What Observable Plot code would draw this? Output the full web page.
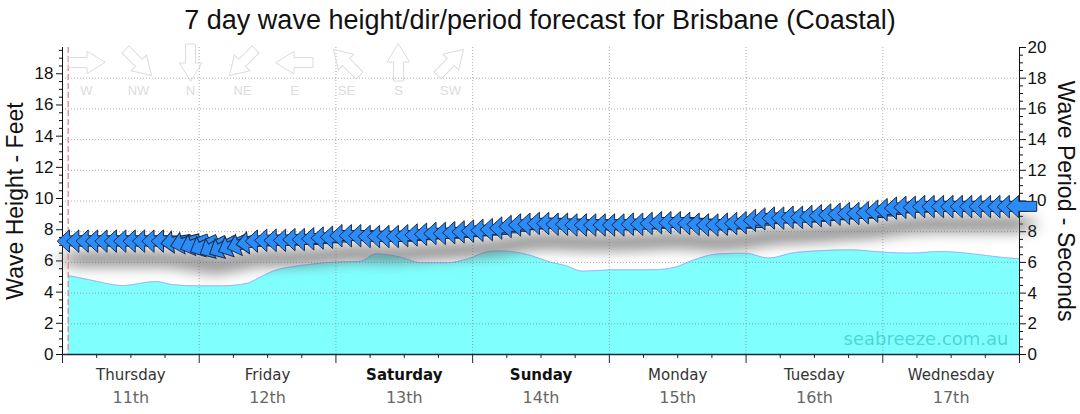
<!DOCTYPE html>
<html><head><meta charset="utf-8">
<script src="https://cdn.jsdelivr.net/npm/d3@7"></script>
<script src="https://cdn.jsdelivr.net/npm/@observablehq/plot@0.6"></script>
<style>
body{margin:0;background:#fff;}
#wrap{position:relative;width:1080px;height:414px;overflow:hidden;background:#fff;}
#title{position:absolute;left:0;top:5px;width:1080px;text-align:center;font-family:"Liberation Sans",Arial,sans-serif;font-size:27px;line-height:30px;color:#111;z-index:10;}
#wrap svg{position:absolute;left:0;top:0;}
</style></head><body>
<div id="wrap"><div id="title">7 day wave height/dir/period forecast for Brisbane (Coastal)</div></div>
<script>
// ---- data ----
const days = ["Thursday","Friday","Saturday","Sunday","Monday","Tuesday","Wednesday"];
const dates = ["11th","12th","13th","14th","15th","16th","17th"];
const weekend = ["Saturday","Sunday"];

// wave height (feet) at hours from Thursday 00:00
const heightHours = [1, 4.6, 10.6, 16.4, 19.4, 23.9, 28.1, 32.5, 33.9, 36.9, 41.8, 47.6, 52.3, 55.1, 59.4, 62.9, 67.6, 71.1, 75.1, 76.9, 81.6, 85.7, 88.3, 91.3, 96.5, 103.6, 107.6, 110.6, 115.1, 119.9, 123.9, 128.7, 138.3, 144.1, 148.8, 154.1, 159.9, 164.6, 168];
const heightFt = [5.06, 4.8, 4.42, 4.68, 4.47, 4.4, 4.4, 4.57, 4.8, 5.34, 5.7, 5.92, 5.98, 6.45, 6.24, 5.88, 5.88, 6.13, 6.62, 6.64, 6.41, 5.92, 5.7, 5.34, 5.43, 5.43, 5.6, 6.03, 6.45, 6.5, 6.18, 6.54, 6.71, 6.56, 6.5, 6.6, 6.45, 6.24, 6.13];

// wave period (s) and direction (deg, from) for each arrow
const arrowStartHour = 1.75;
const arrowStepHours = 1.65;
const periods = [
  7.4,7.4,7.4,7.4,7.4,7.4,7.4,7.4,7.4,7.4,7.4,
  7.35,7.3,7.2,7.1,7.0,7.0,7.1,7.2,7.3,
  7.4,
  7.45,7.45,7.45,7.5,7.5,7.55,7.6,7.65,
  7.75,7.75,7.75,7.7,7.7,7.7,
  7.7,7.75,7.8,7.85,7.9,7.9,
  7.95,8.0,8.05,8.1,8.15,
  8.25,8.35,8.45,8.5,8.55,
  8.55,8.5,8.5,8.45,8.45,8.45,8.45,8.45,8.45,8.5,
  8.5,8.55,8.6,8.6,8.6,8.55,
  8.5,8.45,8.45,8.5,8.55,8.6,
  8.75,8.85,8.9,8.9,8.95,8.95,
  9.0,9.05,9.1,9.15,9.2,9.2,9.25,
  9.35,9.45,9.55,9.6,9.6,9.65,
  9.65,9.65,9.65,9.65,9.65,9.65,9.65,9.65,9.65,9.65
];
const directions = [
  90,90,90,90,90,90,90,90,90,90,90,
  82,76,70,65,62,62,66,72,82,
  90,90,90,90,90,90,90,90,90,90,90,90,90,90,90,90,90,90,90,90,90,90,90,90,90,90,90,90,90,90,90,
  90,90,90,90,90,90,90,90,90,90,90,90,90,90,90,90,90,90,90,90,90,90,90,90,90,90,90,90,90,90,90,
  90,90,90,90,90,90,90,90,90,90,90,90,90,90,90,90,90,90,90,90
];
const nowHour = 1.0;

const leftTicks = [0,2,4,6,8,10,12,14,16,18];
const rightTicks = [0,2,4,6,8,10,12,14,16,18,20];
const gridPeriods = [2,4,6,8,10,12,14,16,18];
const dayBoundaries = [0,24,48,72,96,120,144,168];

const dirNames = ["W","NW","N","NE","E","SE","S","SW"];
const dirDegrees = [270,315,0,45,90,135,180,225];

// ---- scales helpers ----
const MAX_FT = 19.685;      // 6 m
const MAX_SEC = 20;
const K = MAX_FT / MAX_SEC; // seconds -> feet position

const arrows = periods.map((p, i) => ({h: arrowStartHour + i * arrowStepHours, p, dir: directions[i]}));
const heights = heightHours.map((h, i) => ({h, ft: heightFt[i]}));
const minorLeft = d3.range(0, MAX_FT, 0.5).filter(v => v % 2 !== 0);
const minorRight = d3.range(0, MAX_SEC + 0.01, 0.5).filter(v => v % 2 !== 0).map(v => v * K);
const minorX = d3.range(0, 169, 6).filter(v => v % 24 !== 0);

function arrowShape(headLen, headHalf, shaftHalf) {
  return {draw(ctx, l) {
    ctx.moveTo(0, -l);
    ctx.lineTo(headHalf, -l + headLen);
    ctx.lineTo(shaftHalf, -l + headLen);
    ctx.lineTo(shaftHalf, 0);
    ctx.lineTo(-shaftHalf, 0);
    ctx.lineTo(-shaftHalf, -l + headLen);
    ctx.lineTo(-headHalf, -l + headLen);
    ctx.closePath();
  }};
}

const FONT = "Liberation Sans, Arial, sans-serif";
const VFONT = "DejaVu Sans, Verdana, sans-serif";

const chart = Plot.plot({
  width: 1080, height: 414,
  marginLeft: 62, marginRight: 61, marginTop: 47, marginBottom: 60,
  style: {background: "transparent", fontFamily: FONT, fontSize: "17px", overflow: "visible"},
  x: {domain: [0, 168]},
  y: {domain: [0, MAX_FT]},
  marks: [
    Plot.areaY(heights, {x: "h", y: "ft", fill: "#80ffff", curve: "monotone-x"}),
    Plot.lineY(heights, {x: "h", y: "ft", stroke: "#a0b4ff", strokeWidth: 1, curve: "monotone-x"}),
    Plot.ruleY(gridPeriods, {y: p => p * K, stroke: "#777", strokeOpacity: 0.6, strokeDasharray: "1,2"}),
    Plot.ruleX(dayBoundaries.slice(1, -1), {stroke: "#777", strokeOpacity: 0.6, strokeDasharray: "1,2"}),
    Plot.text(["seabreeze.com.au"], {text: d => d, frameAnchor: "bottom-right", dx: -11, dy: -15, lineAnchor: "middle", textAnchor: "end", fontSize: 18, fontFamily: VFONT, fill: "#009999", fillOpacity: 0.42}),
    // axes
    Plot.axisY(leftTicks, {anchor: "left", tickSize: 6, tickPadding: 3, fontSize: 17, color: "#111", label: null, tickFormat: d => String(d)}),
    Plot.axisY(minorLeft, {anchor: "left", tickSize: 3, tickFormat: () => "", color: "#111", label: null}),
    Plot.axisY(rightTicks.map(p => p * K), {anchor: "right", tickSize: 6, tickPadding: 2, fontSize: 17, color: "#111", label: null, tickFormat: d => String(Math.round(d / K))}),
    Plot.axisY(minorRight, {anchor: "right", tickSize: 3, tickFormat: () => "", color: "#111", label: null}),
    Plot.axisX(dayBoundaries, {anchor: "bottom", tickSize: 9, tickFormat: () => "", color: "#1b2640", label: null}),
    Plot.axisX(minorX, {anchor: "bottom", tickSize: 4, tickFormat: () => "", color: "#1b2640", label: null}),
    Plot.ruleX([0, 168], {stroke: "#111"}),
    Plot.ruleY([0], {stroke: "#1b2640", strokeWidth: 1.5}),
    // shadow + now line + arrows
    Plot.vector(arrows, {x: "h", y: d => d.p * K, rotate: d => d.dir + 180, length: 30, shape: arrowShape(12, 11, 6), fill: "#666", fillOpacity: 0.45, stroke: "none", dy: 18, ariaLabel: "shadow"}),
    Plot.ruleX([nowHour], {stroke: "#f08080", strokeWidth: 1.3, strokeDasharray: "6,3"}),
    Plot.vector(arrows, {x: "h", y: d => d.p * K, rotate: d => d.dir + 180, length: 30, shape: arrowShape(12, 11, 5), fill: "#2b8cf7", stroke: "#1a2a48", strokeWidth: 1, strokeLinejoin: "miter", ariaLabel: "arrows"}),
    // day labels
    Plot.text(days, {filter: d => !weekend.includes(d), x: d => 12 + 24 * days.indexOf(d), text: d => d, frameAnchor: "bottom", dy: 21, lineAnchor: "middle", fontSize: 15, fontFamily: VFONT, fill: "#333"}),
    Plot.text(days, {filter: d => weekend.includes(d), x: d => 12 + 24 * days.indexOf(d), text: d => d, frameAnchor: "bottom", dy: 21, lineAnchor: "middle", fontSize: 15, fontWeight: "bold", fontFamily: VFONT, fill: "#111"}),
    Plot.text(dates, {x: d => 12 + 24 * dates.indexOf(d), text: d => d, frameAnchor: "bottom", dy: 43, lineAnchor: "middle", fontSize: 16, fontFamily: VFONT, fill: "#666"}),
    // axis titles
    Plot.text(["Wave Height - Feet"], {text: d => d, frameAnchor: "left", dx: -47, rotate: -90, textAnchor: "middle", lineAnchor: "middle", fontSize: 23, fontFamily: FONT, fill: "#111"}),
    Plot.text(["Wave Period - Seconds"], {text: d => d, frameAnchor: "right", dx: 46, rotate: 90, textAnchor: "middle", lineAnchor: "middle", fontSize: 23, fontFamily: FONT, fill: "#111"})
  ]
});

// blur the shadow group
let shadowG = null;
chart.querySelectorAll("g").forEach(g => { if (!shadowG && g.getAttribute("aria-label") === "shadow") shadowG = g; });
if (!shadowG) shadowG = chart.querySelector('g[aria-label="vector"]');
if (shadowG) {
  shadowG.style.filter = "blur(7px)";
}

const legend = Plot.plot({
  width: 1080, height: 110,
  marginTop: 0, marginBottom: 0, marginLeft: 0, marginRight: 0,
  style: {background: "transparent", overflow: "visible"},
  x: {type: "point", domain: dirNames, range: [84, 451], padding: 0, axis: null},
  y: {domain: [0, 1], range: [62, 90], axis: null},
  marks: [
    Plot.vector(dirNames, {x: d => d, y: () => 0, rotate: d => dirDegrees[dirNames.indexOf(d)] + 180, length: 37, shape: arrowShape(18, 11, 5), fill: "none", stroke: "#dcdcdc", strokeWidth: 1, strokeLinejoin: "miter"}),
    Plot.text(dirNames, {x: d => d, y: () => 1, text: d => d, fill: "#dcdcdc", fontSize: 13, fontFamily: FONT})
  ]
});

const wrap = document.getElementById("wrap");
wrap.appendChild(chart);
wrap.appendChild(legend);
</script>
</body></html>
